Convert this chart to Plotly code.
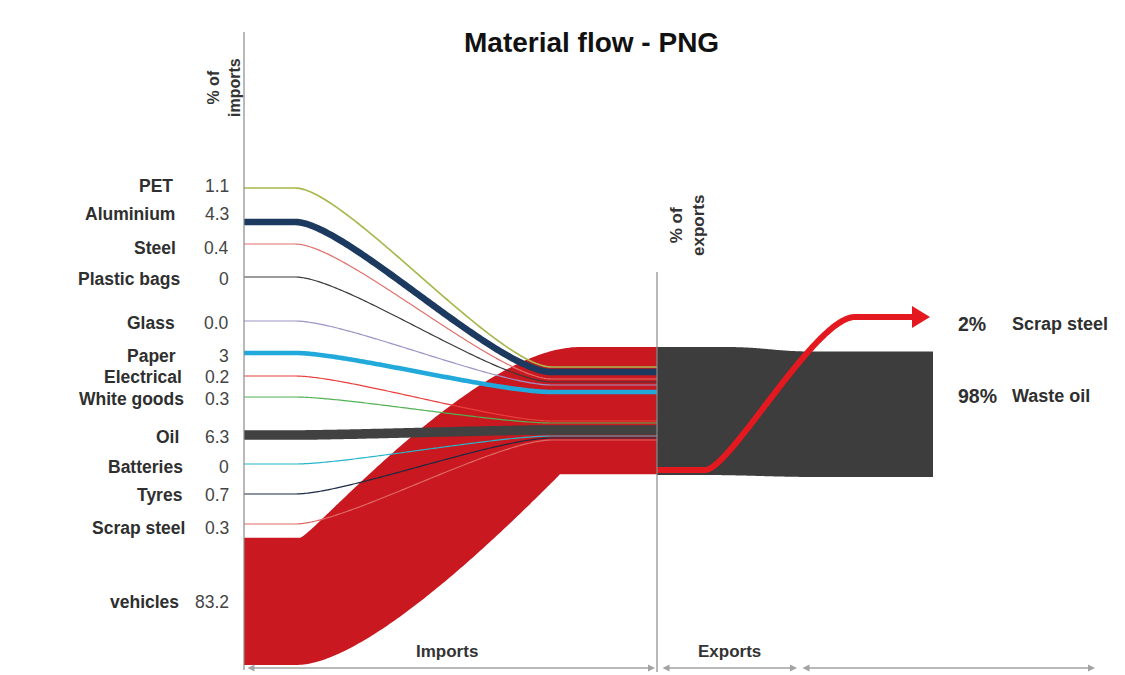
import numpy as np
import plotly.graph_objects as go

# ---------------- data ----------------
materials = ["PET", "Aluminium", "Steel", "Plastic bags", "Glass", "Paper",
             "Electrical", "White goods", "Oil", "Batteries", "Tyres", "Scrap steel"]
import_pct = [1.1, 4.3, 0.4, 0, 0.0, 3, 0.2, 0.3, 6.3, 0, 0.7, 0.3]
import_tick_labels = ["1.1", "4.3", "0.4", "0", "0.0", "3", "0.2", "0.3",
                      "6.3", "0", "0.7", "0.3"]
vehicles_name = "vehicles"
vehicles_pct = 83.2
vehicles_tick_label = "83.2"

export_names = ["Scrap steel", "Waste oil"]
export_pct = [2, 98]
export_tick_labels = ["2%", "98%"]

# ---------------- layout / style ----------------
W, H = 1125, 675
FONT = "Liberation Sans, Arial, sans-serif"
RED = "#c9181f"
DARK = "#3d3d3d"
AXIS_GREY = "#8a8a8a"

line_colors = ["#a9b84e", "#1c3a60", "#e0706c", "#3a3a3a", "#9c94c4", "#21a9dc",
               "#e8403c", "#52b152", "#414141", "#27b6cc", "#1b2a44", "#e06a66"]
row_y = [188, 222, 244, 277, 321, 353, 376, 397, 435, 464, 494, 524]
label_y = [186, 214, 248, 279, 323, 356, 377, 399, 437, 467, 495, 528]
label_right_x = [175, 177, 178, 182, 177, 178, 184, 186, 181, 185, 185, 187]
dock_y = [367, 372, 379, 382, 385, 392, 421, 423, 430, 436, 438, 440]

IMPORT_AXIS_X = 244
EXPORT_AXIS_X = 657
AXIS_BASE = 665          # bottom of the import axis
STREAM_TOP = 347         # top of the merged stream at the export axis
PX_PER_PCT = 1.53        # px of thickness per % of imports
EXPORT_PX_PER_PCT = 1.28 # px of thickness per % of exports
EXPORT_END_X = 933


def bezier(p0, p1, p2, p3, n=120):
    t = np.linspace(0, 1, n)[:, None]
    p0, p1, p2, p3 = (np.asarray(p, float) for p in (p0, p1, p2, p3))
    pts = (1 - t) ** 3 * p0 + 3 * (1 - t) ** 2 * t * p1 + 3 * (1 - t) * t ** 2 * p2 + t ** 3 * p3
    return pts[:, 0], pts[:, 1]


def flow(x_start, x_end, y_from, y_to, xa, xb, ka, kb, dx2=None, dy2=0.0):
    """Flat run, cubic transition between xa and xb, flat run to x_end."""
    c2 = (xb - kb, y_to + dy2) if dx2 is None else (xb - dx2, y_to + dy2)
    bx, by = bezier((xa, y_from), (xa + ka, y_from), c2, (xb, y_to))
    xs = np.concatenate([[x_start], bx, [x_end]])
    ys = np.concatenate([[y_from], by, [y_to]])
    return xs, ys


fig = go.Figure()

# ---- vehicles: the wide red import stream ----
veh_thick = vehicles_pct * PX_PER_PCT
tx, ty = flow(IMPORT_AXIS_X, EXPORT_AXIS_X, AXIS_BASE - veh_thick, STREAM_TOP,
              300, 580, 11, 105)
bx, by = flow(IMPORT_AXIS_X, EXPORT_AXIS_X, AXIS_BASE, STREAM_TOP + veh_thick,
              296, 560, 75, 0, dx2=40, dy2=40)
fig.add_trace(go.Scatter(
    x=np.concatenate([tx, bx[::-1]]), y=np.concatenate([ty, by[::-1]]),
    fill="toself", fillcolor=RED, mode="lines",
    line=dict(width=0, color=RED, simplify=False),
    hoverinfo="skip", showlegend=False))

# ---- individual material flows ----
for name, v, c, y0, y1 in zip(materials, import_pct, line_colors, row_y, dock_y):
    lx, ly = flow(IMPORT_AXIS_X, EXPORT_AXIS_X, y0, y1, 295, 552, 50, 55)
    fig.add_trace(go.Scatter(
        x=lx, y=ly, mode="lines", name=name,
        line=dict(color=c, width=max(1.2, v * PX_PER_PCT), simplify=False),
        hoverinfo="skip", showlegend=False))

# ---- exports: waste oil band ----
exp_left_top = STREAM_TOP
exp_left_bot = STREAM_TOP + 100 * EXPORT_PX_PER_PCT
exp_right_bot = exp_left_bot + 2
exp_right_top = exp_right_bot - export_pct[1] * EXPORT_PX_PER_PCT
etx, ety = flow(EXPORT_AXIS_X, EXPORT_END_X, exp_left_top, exp_right_top, 725, 815, 40, 40)
ebx, eby = flow(EXPORT_AXIS_X, EXPORT_END_X, exp_left_bot, exp_right_bot, 700, 820, 50, 50)
fig.add_trace(go.Scatter(
    x=np.concatenate([etx, ebx[::-1]]), y=np.concatenate([ety, eby[::-1]]),
    fill="toself", fillcolor=DARK, mode="lines",
    line=dict(width=0, color=DARK, simplify=False),
    hoverinfo="skip", showlegend=False))

# ---- exports: scrap steel arrow ----
ARROW_Y = 317
ax_, ay_ = flow(EXPORT_AXIS_X, 914, exp_left_bot - 5, ARROW_Y, 705, 855, 25, 40)
fig.add_trace(go.Scatter(x=ax_, y=ay_, mode="lines",
                         line=dict(color="#e4191f", width=6, simplify=False),
                         hoverinfo="skip", showlegend=False))
fig.add_trace(go.Scatter(x=[912, 930, 912, 912], y=[ARROW_Y - 11, ARROW_Y, ARROW_Y + 11, ARROW_Y - 11],
                         fill="toself", fillcolor="#e4191f", mode="lines",
                         line=dict(width=0, color="#e4191f"),
                         hoverinfo="skip", showlegend=False))

# ---- axes ----
shapes = [
    dict(type="line", x0=IMPORT_AXIS_X, x1=IMPORT_AXIS_X, y0=32, y1=670,
         line=dict(color=AXIS_GREY, width=1.2)),
    dict(type="line", x0=EXPORT_AXIS_X, x1=EXPORT_AXIS_X, y0=272, y1=672,
         line=dict(color=AXIS_GREY, width=1.2)),
]

annotations = []


def text(x, y, s, size, color="#333333", xanchor="center", bold=False, angle=0):
    annotations.append(dict(
        x=x, y=y, xref="x", yref="y", text=f"<b>{s}</b>" if bold else s,
        showarrow=False, xanchor=xanchor, yanchor="middle", textangle=angle,
        font=dict(family=FONT, size=size, color=color)))


text(591, 42, "Material flow - PNG", 28, color="#111111", bold=True)
text(224, 88, "% of<br>imports", 16, color="#333333", bold=True, angle=-90)
text(687, 226, "% of<br>exports", 17, color="#333333", bold=True, angle=-90)

for name, lab, y, lx_ in zip(materials, import_tick_labels, label_y, label_right_x):
    text(lx_, y, name, 17.5, color="#2f2f2f", xanchor="right", bold=True)
    text(231, y, lab, 17.5, color="#444444", xanchor="right")
text(181, 602, vehicles_name, 17.5, color="#2f2f2f", xanchor="right", bold=True)
text(231, 602, vehicles_tick_label, 17.5, color="#444444", xanchor="right")

export_label_y = [ARROW_Y + 7, 396]
export_pct_x = [988, 999]
for name, lab, y, px in zip(export_names, export_tick_labels, export_label_y, export_pct_x):
    text(px, y, lab, 19.5, color="#2f2f2f", xanchor="right", bold=True)
    text(1010, y, name, 18, color="#2f2f2f", xanchor="left", bold=True)

text(447, 651, "Imports", 17, color="#333333", bold=True)
text(729, 651, "Exports", 17, color="#333333", bold=True)

# stage arrows along the bottom
for x_a, x_b in [(246, 655), (661, 797), (801, 1095)]:
    annotations.append(dict(
        x=x_b, y=668, ax=x_a, ay=668, xref="x", yref="y", axref="x", ayref="y",
        text="", showarrow=True, arrowhead=2, arrowside="end+start",
        arrowsize=1, arrowwidth=1.4, arrowcolor="#a3a3a3"))

fig.update_layout(
    width=W, height=H, margin=dict(l=0, r=0, t=0, b=0),
    paper_bgcolor="white", plot_bgcolor="white",
    shapes=shapes, annotations=annotations, showlegend=False,
    xaxis=dict(range=[0, W], visible=False, fixedrange=True),
    yaxis=dict(range=[H, 0], visible=False, fixedrange=True),
)

fig.write_html("out.html")
